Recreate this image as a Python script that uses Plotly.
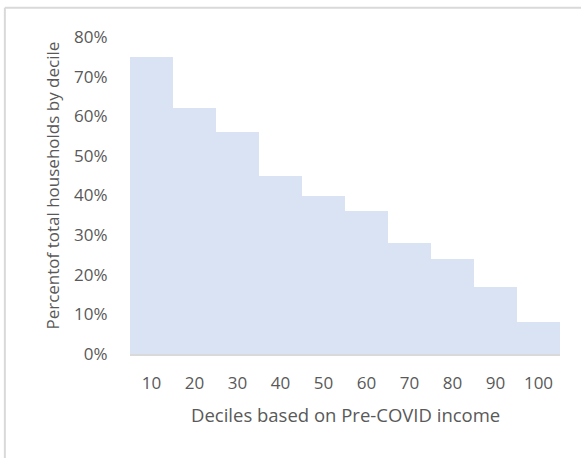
import plotly.graph_objects as go

deciles = ["10", "20", "30", "40", "50", "60", "70", "80", "90", "100"]
share = [0.75, 0.62, 0.56, 0.45, 0.40, 0.36, 0.28, 0.24, 0.17, 0.08]
y_ticks = [0, 0.1, 0.2, 0.3, 0.4, 0.5, 0.6, 0.7, 0.8]

font_gray = "#595959"

fig = go.Figure(
    go.Bar(
        x=deciles,
        y=share,
        marker=dict(color="#dae3f3", line=dict(width=0)),
        hoverinfo="x+y",
    )
)

fig.update_layout(
    width=581,
    height=458,
    margin=dict(l=130, r=21, t=37, b=104),
    paper_bgcolor="white",
    plot_bgcolor="white",
    bargap=0,
    showlegend=False,
    font=dict(family="Open Sans", size=17, color=font_gray),
    xaxis=dict(
        type="category",
        showgrid=False,
        showline=True,
        linecolor="#d9d9d9",
        linewidth=1.5,
        ticks="outside",
        ticklen=13,
        tickcolor="rgba(0,0,0,0)",
        tickfont=dict(size=17, color=font_gray),
    ),
    yaxis=dict(
        range=[0, 0.8],
        tickvals=y_ticks,
        tickformat=".0%",
        showgrid=False,
        zeroline=False,
        ticks="outside",
        ticklen=18,
        tickcolor="rgba(0,0,0,0)",
        tickfont=dict(size=17, color=font_gray),
    ),
    annotations=[
        dict(
            text="Percentof total households by decile",
            xref="paper", yref="paper",
            x=-0.18, y=0.53,
            xanchor="center", yanchor="middle",
            textangle=-90, showarrow=False,
            font=dict(size=17, color=font_gray),
        ),
        dict(
            text="Deciles based on Pre-COVID income",
            xref="paper", yref="paper",
            x=0.5, y=-0.19,
            xanchor="center", yanchor="middle",
            showarrow=False,
            font=dict(size=18.5, color=font_gray),
        ),
    ],
    shapes=[
        # outer chart frame (only top and left edges fall inside the image)
        dict(type="line", xref="paper", yref="paper",
             x0=-0.291, x1=1.049, y0=1.092, y1=1.092,
             line=dict(color="#d9d9d9", width=2)),
        dict(type="line", xref="paper", yref="paper",
             x0=-0.291, x1=-0.291, y0=1.092, y1=-0.33,
             line=dict(color="#d9d9d9", width=2)),
    ],
)

# the page has a default 8px body margin; drop it so the figure sits at 0,0
fig.write_html(
    "out.html",
    config={"displayModeBar": False},
    post_script="document.body.style.margin='0';",
)
